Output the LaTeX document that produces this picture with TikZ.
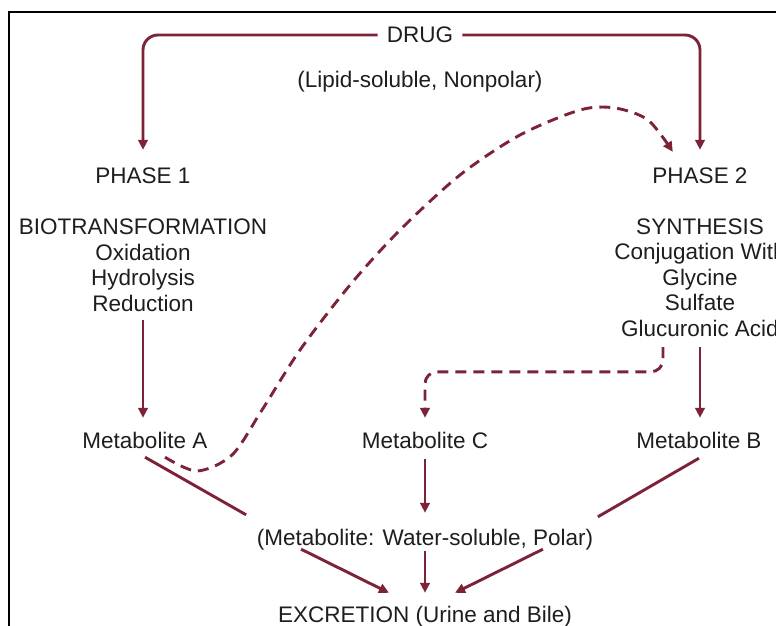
\documentclass[tikz,border=0pt]{standalone}
\usepackage{fontspec}
\setmainfont{Liberation Sans}
\usetikzlibrary{arrows.meta}
\definecolor{maroon}{RGB}{125,35,55}
\definecolor{txt}{RGB}{30,30,30}
\begin{document}
\begin{tikzpicture}[x=1pt,y=-1pt,
  lbl/.style={font=\fontsize{22.5}{25}\selectfont, text=txt, inner sep=0pt, text height=16pt, text depth=5pt, anchor=base},
  ln/.style={draw=maroon, line width=2.9pt},
  arr/.style={ln, -{Triangle[length=10pt,width=9.5pt]}},
  dsh/.style={arr, dash pattern=on 11pt off 7pt}]
\useasboundingbox (0,0) rectangle (776,626);
\fill[white] (0,0) rectangle (776,626);
\draw[black, line width=2pt] (9,626) -- (9,12) -- (776,12);

% text nodes
\node[lbl, anchor=center, text depth=0pt, inner xsep=9pt] (drug) at (420,35) {DRUG};
\node[lbl] (lipid) at (420,88) {(Lipid-soluble, Nonpolar)};
\node[lbl] (p1) at (143,183) {PHASE 1};
\node[lbl] (bio) at (143,234) {BIOTRANSFORMATION};
\node[lbl] (oxi) at (143,260) {Oxidation};
\node[lbl] (hyd) at (143,285.5) {Hydrolysis};
\node[lbl] (red) at (143,311) {Reduction};
\node[lbl] (p2) at (700,183) {PHASE 2};
\node[lbl] (syn) at (700,234) {SYNTHESIS};
\node[lbl] (conj) at (700,259.5) {Conjugation With};
\node[lbl] (gly) at (700,285) {Glycine};
\node[lbl] (sul) at (700,310.5) {Sulfate};
\node[lbl] (glu) at (700,336) {Glucuronic Acid};
\node[lbl] (mA) at (145,448) {Metabolite A};
\node[lbl] (mC) at (425,448) {Metabolite C};
\node[lbl] (mB) at (699,448) {Metabolite B};
\node[lbl] (wat) at (425,545) {(Metabolite: Water-soluble, Polar)};
\node[lbl] (exc) at (425,622) {EXCRETION (Urine and Bile)};

% connectors
\draw[arr, rounded corners=15pt] (drug.west) -| ([yshift=17pt]p1.north);
\draw[arr, rounded corners=15pt] (drug.east) -| ([yshift=17pt]p2.north);
\draw[arr] ([yshift=-4pt]red.south) -- ([yshift=14pt]mA.north -| red.south);
\draw[arr] ([yshift=-6pt]glu.south) -- ([yshift=14pt]mB.north -| glu.south);
\draw[dsh, rounded corners=12pt] ([shift={(-37pt,-6pt)}]glu.south) |- ([yshift=60pt]mC.north) -- ([yshift=14pt]mC.north);
\draw[arr] ([yshift=-6pt]mC.south) -- ([yshift=16pt]wat.north);
\draw[ln] ([yshift=-4pt]mA.south) -- ([shift={(-10.5pt,14pt)}]wat.north west);
\draw[ln] ([yshift=-5pt]mB.south) -- ([shift={(4.5pt,12pt)}]wat.north east);
\draw[arr] ([shift={(44.5pt,1pt)}]wat.south west) -- ([shift={(-36pt,13pt)}]exc.north);
\draw[arr] ([yshift=-1pt]wat.south) -- ([yshift=13pt]exc.north);
\draw[arr] ([shift={(-50.5pt,1pt)}]wat.south east) -- ([shift={(30pt,13pt)}]exc.north);

\coordinate (dA) at ([shift={(20pt,-4pt)}]mA.south);
\coordinate (dP) at ([shift={(20.5pt,15pt)}]p2.north west);
\draw[dsh] plot[smooth, tension=0.5] coordinates {(dA) (197,471) (232,455) (262,410) (300,350) (350,285) (400,230) (460,175) (520,135) (580,110) (615,108) (648,120) (dP)};
\end{tikzpicture}
\end{document}
